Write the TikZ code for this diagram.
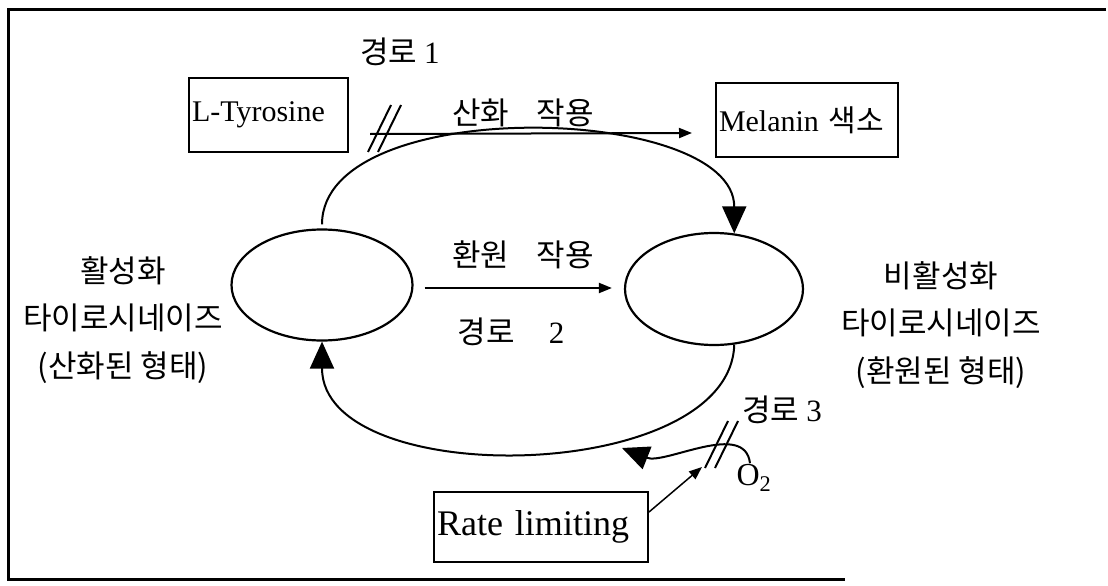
\documentclass[tikz,border=0pt]{standalone}
\usepackage{fontspec}
\setmainfont{Liberation Serif}
\newfontfamily\kr{Noto Sans CJK KR}
\usepackage{tikz}
\usetikzlibrary{arrows.meta,positioning,calc,shapes.geometric}

\begin{document}
\begin{tikzpicture}[x=1pt,y=-1pt,line width=2pt,
lbl/.style={inner sep=0pt,align=center,font=\kr\fontsize{31}{47.5}\selectfont},
box/.style={draw,anchor=west,inner xsep=3pt,minimum height=74pt,align=left,font=\fontsize{30}{34}\selectfont},
enz/.style={draw,ellipse,inner sep=0pt,line width=2.2pt},
big/.style={-{Triangle[length=27pt,width=24pt]}},
small/.style={-{Triangle[length=13pt,width=10pt]}}
]
\useasboundingbox (0,0) rectangle (1108,586);
% frame (open on the right)
\draw[line width=3pt] (1106,10) -- (8,10) -- (8,579) -- (845,579);

% enzyme forms
\node[enz,minimum width=181pt,minimum height=111pt] (act) at (322,285) {};
\node[enz,minimum width=178pt,minimum height=112pt] (inact) at (714,289) {};
\node[lbl] (actlab) at (123,320) {활성화\\타이로시네이즈\\(산화된 형태)};
\node[lbl] (inactlab) at (941,325) {비활성화\\타이로시네이즈\\(환원된 형태)};

% substrate / product
\node[box,text width=153pt] (tyr) at (188,115) {L-Tyrosine};
\node[box,text width=176pt] (mel) at (715,120) {Melanin {\kr 색소}};
\node[box,text width=208pt,minimum height=70pt,font=\fontsize{36}{40}\selectfont] (rate) at (433,527) {Rate limiting};

% pathway labels
\node[lbl] (p1) at (400,52) {경로 {\rmfamily 1}};
\node[lbl] (ox) at (523,113) {산화\hspace{0.9em}작용};
\node[lbl] (red) at (523,255) {환원\hspace{0.9em}작용};
\node[lbl] (p2) at (511,332) {경로\hspace{1.1em}{\rmfamily 2}};
\node[lbl] (p3) at (782,410) {경로 {\rmfamily 3}};
\node[inner sep=0pt,font=\fontsize{32}{36}\selectfont] (o2) at (754,478) {O\textsubscript{2}};

% path 1 : oxidation
\draw[small] ($(tyr.south east)+(21,-19)$) -- ($(mel.west)+(-23,13)$);
\coordinate (cut1) at (368,152);
\foreach \d in {0,10}
\draw ($(cut1)+(\d,0)$) -- ++(23,-47);
\draw[big,shorten <=4pt] (act.north) .. controls +(0,-135) and +(0,-130) .. (inact.70);

% path 2 : reduction
\draw[small] ([xshift=11pt,yshift=-3pt]act.east) -- ([xshift=-12pt,yshift=1pt]inact.west);

% path 3
\draw[big] (inact.-70) .. controls +(-4,140) and +(0,150) .. (act.south);
\draw[big] ($(o2.north)+(-4,0)$) .. controls (745,420) and (665,465) .. (622,448);
\coordinate (cut3) at (705,464);
\foreach \d in {0,10}
\draw ($(cut3)+(\d,4)$) -- ++(23,-47);
\draw[small,line width=1.5pt] ([yshift=15pt]rate.east) -- (702,467);
\end{tikzpicture}
\end{document}
